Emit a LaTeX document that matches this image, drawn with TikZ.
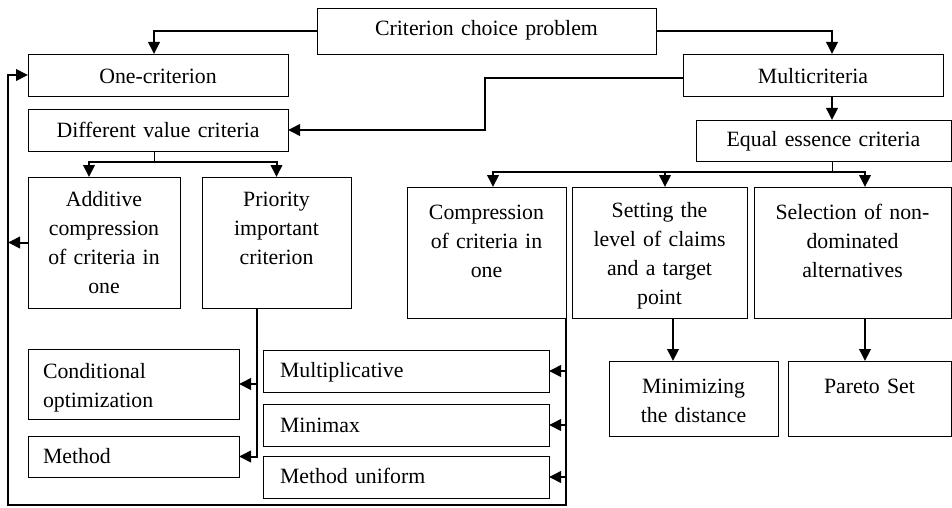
\documentclass[tikz,border=0pt]{standalone}
\usepackage{fontspec}
\setmainfont{Liberation Serif}
\usetikzlibrary{arrows.meta}

% framed block with centred text; args: name, x1, y1, x2, y2, first-baseline offset, text
\newcommand\cbox[7]{%
  \pgfmathsetmacro\blkw{#4-#2}\pgfmathsetmacro\blkh{#5-#3}\pgfmathsetmacro\blktw{#4-#2-6}%
  \node[box, minimum width=\blkw pt, minimum height=\blkh pt] (#1) at (#2,#3) {};
  \node[txt, text width=\blktw pt] (#1-t) at ([yshift=-#6pt]#1.north) {#7};}
% framed block with left-aligned text; extra arg: left padding
\newcommand\lbox[8]{%
  \pgfmathsetmacro\blkw{#4-#2}\pgfmathsetmacro\blkh{#5-#3}\pgfmathsetmacro\blktw{#4-#2-2*#7}%
  \node[box, minimum width=\blkw pt, minimum height=\blkh pt] (#1) at (#2,#3) {};
  \node[txt, anchor=base west, align=left, text width=\blktw pt] (#1-t)
    at ([xshift=#7pt,yshift=-#6pt]#1.north west) {#8};}

\begin{document}
\begin{tikzpicture}[x=1pt, y=-1pt,
  box/.style={draw, line width=0.8pt, inner sep=0pt, outer sep=0pt, anchor=north west},
  txt/.style={inner sep=0pt, outer sep=0pt, anchor=base, align=center,
              font=\fontsize{21.8}{29}\selectfont},
  link/.style={line width=2pt, -{Triangle[length=12pt, width=11.5pt]}},
  wire/.style={line width=2pt},
  stem/.style={line width=0.8pt},
]
\useasboundingbox (0,0) rectangle (952,508);

% --- blocks ---
\cbox{crit}{317}{8}{656}{54}{28}{Criterion choice problem}
\cbox{one}{28}{54}{288}{96}{29.5}{One-criterion}
\cbox{diff}{28}{109}{288}{151}{28.5}{Different value criteria}
\cbox{multi}{683}{54}{943}{96}{29.5}{Multicriteria}
\cbox{equal}{696}{120}{951}{161}{26.5}{Equal essence criteria}
\cbox{add}{28}{177}{180}{308}{29.5}{Additive\\compression\\of criteria in\\one}
\cbox{prio}{202}{177}{351}{308}{29.5}{Priority\\important\\criterion}
\cbox{comp}{407}{187}{566}{318}{32.5}{Compression\\of criteria in\\one}
\cbox{sett}{572}{187}{747}{318}{30.5}{Setting the\\level of claims\\and a target\\point}
\cbox{sel}{754}{187}{951}{318}{32.5}{Selection of non-\\dominated\\alternatives}
\cbox{mind}{609}{361}{778}{436}{32.5}{Minimizing\\the distance}
\cbox{pareto}{788}{361}{951}{436}{32.5}{Pareto Set}
\lbox{cond}{28}{349}{239}{419}{29.5}{15}{Conditional\\optimization}
\lbox{meth}{28}{436}{239}{477}{27.5}{15}{Method}
\lbox{mult}{263}{350}{549}{392}{27.5}{17}{Multiplicative}
\lbox{minimax}{263}{404}{549}{446}{28.5}{17}{Minimax}
\lbox{unif}{263}{456}{549}{498}{27.5}{17}{Method uniform}

% --- top level split ---
\draw[link] (crit.west) -| ([xshift=-4pt]one.north);
\draw[link] (crit.east) -| ([xshift=19pt]multi.north);
\draw[link] ([yshift=-3pt]multi.west) -- ++(-198,0) |- (diff.east);
\draw[link] ([xshift=19pt]multi.south) -- ([xshift=8.5pt]equal.north);

% --- equal essence criteria branches ---
\draw[stem] ([xshift=8.5pt]equal.south) -- ++(0,11) coordinate (eqbus);
\draw[link] (eqbus) -| ([xshift=6.5pt]comp.north);
\draw[link] (eqbus) -| ([xshift=5.5pt]sett.north);
\draw[link] (eqbus) -| ([xshift=12.5pt]sel.north);
\draw[link] ([xshift=13.5pt]sett.south) -- ([xshift=-20.5pt]mind.north);
\draw[link] ([xshift=12.5pt]sel.south) -- ([xshift=-4.5pt]pareto.north);

% --- different value criteria branches ---
\draw[stem] ([xshift=-4pt]diff.south) -- ++(0,11) coordinate (dvbus);
\draw[link] (dvbus) -| ([xshift=-15pt]add.north);
\draw[link] (dvbus) -| (prio.north);

% --- priority criterion outputs ---
\coordinate (pst) at ([xshift=-19.5pt]prio.south);
\draw[link] (pst) |- (meth.east);
\draw[link] (cond.east -| pst) -- (cond.east);

% --- compression outputs and the return loop ---
\coordinate (loopL) at (8,505);
\draw[link] (comp.south east) |- (loopL) |- (one.west);
\draw[link] (mult.east -| comp.south east) -- (mult.east);
\draw[link] (minimax.east -| comp.south east) -- (minimax.east);
\draw[link] (unif.east -| comp.south east) -- (unif.east);
\draw[link] (add.west) -- (add.west -| loopL);
\end{tikzpicture}
\end{document}
